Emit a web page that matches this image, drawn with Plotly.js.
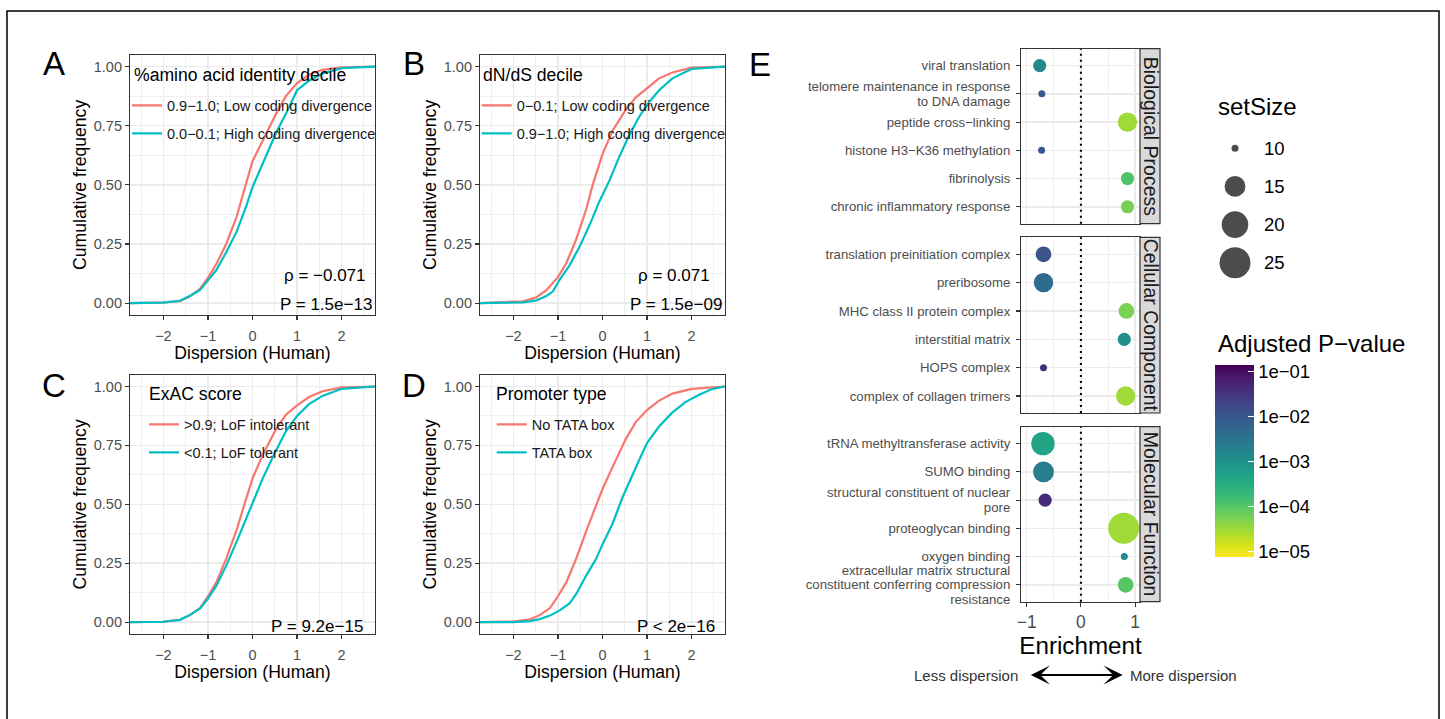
<!DOCTYPE html>
<html><head><meta charset="utf-8">
<script src="https://cdn.plot.ly/plotly-3.0.1.min.js"></script>
<style>html,body{margin:0;padding:0;background:#fff}#chart{width:1445px;height:719px}</style>
</head><body><div id="chart"></div>
<script>
// ---------------- DATA ----------------
// Panel A: %amino acid identity decile
const aLowX  = [-2.75,-2.0,-1.63,-1.41,-1.18,-1.0,-0.81,-0.59,-0.36,-0.22,0,0.23,0.53,0.75,1.0,1.27,1.57,2.0,2.75];
const aLowY  = [0,0.003,0.008,0.028,0.06,0.107,0.166,0.25,0.363,0.455,0.60,0.687,0.80,0.875,0.93,0.965,0.986,0.997,1];
const aHighX = [-2.75,-2.0,-1.63,-1.41,-1.18,-1.0,-0.81,-0.59,-0.36,-0.14,0,0.23,0.53,0.75,1.0,1.27,1.57,2.0,2.75];
const aHighY = [0,0.002,0.01,0.03,0.055,0.095,0.14,0.215,0.30,0.41,0.49,0.59,0.72,0.80,0.90,0.94,0.97,0.993,1];
// Panel B: dN/dS decile
const bLowX  = [-2.75,-2.3,-1.78,-1.48,-1.26,-1.0,-0.81,-0.59,-0.36,-0.22,0,0.23,0.53,0.75,1.0,1.27,1.57,2.0,2.75];
const bLowY  = [0,0.003,0.008,0.025,0.055,0.11,0.17,0.27,0.40,0.50,0.63,0.73,0.82,0.87,0.91,0.95,0.975,0.995,1];
const bHighX = [-2.75,-1.78,-1.48,-1.26,-1.11,-0.96,-0.74,-0.51,-0.29,-0.07,0.16,0.38,0.60,0.83,1.05,1.27,1.57,2.0,2.75];
const bHighY = [0,0.003,0.012,0.03,0.05,0.10,0.16,0.24,0.33,0.43,0.52,0.62,0.71,0.79,0.85,0.90,0.95,0.99,1];
// Panel C: ExAC score
const cLowX  = [-2.75,-2.0,-1.63,-1.41,-1.18,-1.0,-0.81,-0.59,-0.36,-0.18,0,0.23,0.53,0.75,1.0,1.27,1.57,2.0,2.75];
const cLowY  = [0,0.002,0.01,0.03,0.06,0.11,0.17,0.27,0.39,0.50,0.61,0.71,0.82,0.88,0.92,0.955,0.98,0.996,1];
const cHighX = [-2.75,-2.0,-1.63,-1.41,-1.18,-1.0,-0.81,-0.59,-0.36,-0.14,0,0.23,0.53,0.75,1.0,1.27,1.57,2.0,2.75];
const cHighY = [0,0.002,0.01,0.03,0.057,0.10,0.155,0.24,0.34,0.44,0.50,0.61,0.73,0.81,0.875,0.925,0.96,0.99,1];
// Panel D: Promoter type
const dNoX   = [-2.75,-2.0,-1.63,-1.41,-1.18,-1.0,-0.81,-0.59,-0.36,-0.14,0,0.23,0.53,0.75,1.0,1.27,1.57,2.0,2.75];
const dNoY   = [0,0.003,0.012,0.03,0.06,0.11,0.17,0.27,0.39,0.50,0.565,0.66,0.78,0.85,0.90,0.94,0.97,0.99,1];
const dTataX = [-2.75,-2.0,-1.63,-1.41,-1.18,-0.96,-0.74,-0.59,-0.36,-0.14,0,0.23,0.45,0.68,0.90,1.0,1.27,1.57,1.87,2.17,2.47,2.75];
const dTataY = [0,0.0,0.005,0.013,0.028,0.05,0.08,0.12,0.20,0.27,0.33,0.42,0.53,0.63,0.72,0.76,0.83,0.89,0.935,0.965,0.99,1];

const legendNames = {
  A: ['0.9−1.0; Low coding divergence','0.0−0.1; High coding divergence'],
  B: ['0−0.1; Low coding divergence','0.9−1.0; High coding divergence'],
  C: ['&gt;0.9; LoF intolerant','&lt;0.1; LoF tolerant'],
  D: ['No TATA box','TATA box']
};
const legendTitles = {A:'%amino acid identity decile', B:'dN/dS decile', C:'ExAC score', D:'Promoter type'};
const statsA = ['ρ = −0.071','P = 1.5e−13'];
const statsB = ['ρ = 0.071','P = 1.5e−09'];
const statsC = ['P = 9.2e−15'];
const statsD = ['P &lt; 2e−16'];

// Panel E: enrichment
const termsBP = ['viral translation','telomere maintenance in response<br>to DNA damage','peptide cross−linking','histone H3−K36 methylation','fibrinolysis','chronic inflammatory response'];
const enrichBP = [-0.76,-0.72,0.86,-0.725,0.86,0.86];
const sizeBP   = [11,10,14,10,11,11];
const padjBP   = [1.5e-3,1.0e-2,3.1e-5,1.0e-2,1.2e-4,6.0e-5];

const termsCC = ['translation preinitiation complex','preribosome','MHC class II protein complex','interstitial matrix','HOPS complex','complex of collagen trimers'];
const enrichCC = [-0.69,-0.69,0.84,0.80,-0.69,0.825];
const sizeCC   = [12,14,12,11,10,14];
const padjCC   = [1.2e-2,4.6e-3,5.5e-5,1.05e-3,4.0e-2,3.1e-5];

const termsMF = ['tRNA methyltransferase activity','SUMO binding','structural constituent of nuclear<br>pore','proteoglycan binding','oxygen binding','extracellular matrix structural<br>constituent conferring compression<br>resistance'];
const enrichMF = [-0.70,-0.69,-0.66,0.79,0.80,0.825];
const sizeMF   = [17,15,11,25,10,12];
const padjMF   = [4.8e-4,2.3e-3,4.4e-2,3.1e-5,1.5e-3,1.0e-4];

const facetLabels = ['Biological Process','Cellular Component','Molecular Function'];
const sizeLegendVals = [10,15,20,25];
const sizeLimits = [10,25];
const colorLimits = [7.8e-6, 0.14];
const colorTickVals = [1e-1,1e-2,1e-3,1e-4,1e-5];
const colorTickText = ['1e−01','1e−02','1e−03','1e−04','1e−05'];
const refLine = 0;

// ---------------- LAYOUT HELPERS ----------------
const W=1445, H=719;
const fx = p => p/W, fy = p => 1 - p/H;
const FONT = 'Liberation Sans, Arial, Helvetica, sans-serif';
const RED = '#F8766D', CYAN = '#00BFC4';
const box = {
  A:{x:[130,375], y:[54.7,315]},
  B:{x:[480,725], y:[54.7,315]},
  C:{x:[130,375], y:[374.7,634]},
  D:{x:[480,725], y:[374.7,634]},
  E1:{x:[1021,1140], y:[48.7,223.7]},
  E2:{x:[1021,1140], y:[237.3,413]},
  E3:{x:[1021,1140], y:[426.7,601.7]},
  S:{x:[1215,1255], y:[129.2,281.8]}
};
const xd = b => [fx(b.x[0]), fx(b.x[1])];
const yd = b => [fy(b.y[1]), fy(b.y[0])];

// size scale mimicking ggplot area scale (range 1..6) -> pixel diameter
const sizeScale = v => 2.2 + 4.8*(1 + 5*Math.sqrt((v - sizeLimits[0])/(sizeLimits[1]-sizeLimits[0])));
const lg = v => Math.log10(v);

const gridMajor = '#EBEBEB';
function ecdfX(b, anchor){
  return {domain:xd(b), anchor, range:[-2.75,2.75], tickmode:'linear', tick0:0, dtick:1,
    ticks:'outside', ticklen:4, tickwidth:1.1, tickcolor:'#333333', ticklabelstandoff:3,
    tickfont:{size:14.5, color:'#4D4D4D'}, showgrid:true, gridcolor:gridMajor, gridwidth:1.6,
    minor:{dtick:0.5, showgrid:true, gridcolor:gridMajor, gridwidth:0.8},
    showline:true, mirror:true, linecolor:'#333333', linewidth:1.1, zeroline:false,
    title:{text:'Dispersion (Human)', font:{size:17.6, color:'#000'}, standoff:2}};
}
function ecdfY(b, anchor){
  return {domain:yd(b), anchor, range:[-0.05,1.05], tickmode:'linear', tick0:0, dtick:0.25, tickformat:'.2f',
    ticks:'outside', ticklen:4, tickwidth:1.1, tickcolor:'#333333',
    tickfont:{size:14.5, color:'#4D4D4D'}, showgrid:true, gridcolor:gridMajor, gridwidth:1.6,
    minor:{dtick:0.125, showgrid:true, gridcolor:gridMajor, gridwidth:0.8},
    showline:true, mirror:true, linecolor:'#333333', linewidth:1.1, zeroline:false,
    title:{text:'Cumulative frequency', font:{size:17.6, color:'#000'}, standoff:2}};
}
function eX(b, anchor, bottom){
  const a = {domain:xd(b), anchor, range:[-1.105,1.09], tickmode:'linear', tick0:0, dtick:1,
    showgrid:true, gridcolor:gridMajor, gridwidth:1.6,
    minor:{dtick:0.5, showgrid:true, gridcolor:gridMajor, gridwidth:0.8},
    showline:true, mirror:true, linecolor:'#333333', linewidth:1.1, zeroline:false,
    showticklabels:false, ticks:''};
  if(bottom){
    Object.assign(a, {showticklabels:true, ticks:'outside', ticklen:4, tickwidth:1.1, tickcolor:'#333333',
      tickfont:{size:17.5, color:'#4D4D4D'},
      title:{text:'Enrichment', font:{size:24.2, color:'#000'}, standoff:4}});
  }
  return a;
}
function eY(b, anchor, terms){
  return {domain:yd(b), anchor, type:'category', categoryorder:'array', categoryarray:terms,
    range:[terms.length-0.4, -0.6], autorange:false,
    showgrid:true, gridcolor:gridMajor, gridwidth:1.6,
    ticks:'outside', ticklen:4, tickwidth:1.1, tickcolor:'#333333', ticklabelstandoff:3,
    tickfont:{size:13.2, color:'#4D4D4D'},
    showline:true, mirror:true, linecolor:'#333333', linewidth:1.1, zeroline:false};
}

// ---------------- TRACES ----------------
const traces = [];
function ecdfPair(xa, ya, x1, y1, x2, y2, names, leg){
  traces.push({type:'scatter', mode:'lines', x:x1, y:y1, xaxis:xa, yaxis:ya, name:names[0],
    line:{color:RED, width:2.2}, legend:leg, legendgroup:leg+'a', hoverinfo:'skip'});
  traces.push({type:'scatter', mode:'lines', x:x2, y:y2, xaxis:xa, yaxis:ya, name:names[1],
    line:{color:CYAN, width:2.2}, legend:leg, legendgroup:leg+'b', hoverinfo:'skip'});
}
ecdfPair('x','y', aLowX,aLowY,aHighX,aHighY, legendNames.A, 'legend');
ecdfPair('x2','y2', bLowX,bLowY,bHighX,bHighY, legendNames.B, 'legend2');
ecdfPair('x3','y3', cLowX,cLowY,cHighX,cHighY, legendNames.C, 'legend3');
ecdfPair('x4','y4', dNoX,dNoY,dTataX,dTataY, legendNames.D, 'legend4');

const cmin = lg(colorLimits[0]), cmax = lg(colorLimits[1]);
function dotTrace(xa, ya, terms, enrich, sizes, padj, showscale){
  const t = {type:'scatter', mode:'markers', x:enrich, y:terms, xaxis:xa, yaxis:ya, showlegend:false,
    hoverinfo:'skip', cliponaxis:false,
    marker:{size:sizes.map(sizeScale), sizemode:'diameter', color:padj.map(lg), colorscale:'Viridis',
      reversescale:true, cmin, cmax, showscale, line:{width:0}, opacity:1}};
  if(showscale){
    t.marker.colorbar = {x:fx(1215), xanchor:'left', y:fy((365+556.7)/2), yanchor:'middle',
      len:191.7, lenmode:'pixels', thickness:39, thicknessmode:'pixels', outlinewidth:0,
      xpad:0, ypad:0, tickmode:'array', tickvals:colorTickVals.map(lg), ticktext:colorTickText,
      tickprefix:'\u00A0', ticks:'inside', ticklen:6, tickwidth:1, tickcolor:'#FFFFFF',
      tickfont:{size:18.5, color:'#000', family:FONT}, title:{text:''}};
  }
  return t;
}
traces.push(dotTrace('x5','y5', termsBP, enrichBP, sizeBP, padjBP, false));
traces.push(dotTrace('x6','y6', termsCC, enrichCC, sizeCC, padjCC, false));
traces.push(dotTrace('x7','y7', termsMF, enrichMF, sizeMF, padjMF, true));
// size legend
traces.push({type:'scatter', mode:'markers', x:sizeLegendVals.map(()=>0), y:sizeLegendVals, xaxis:'x8', yaxis:'y8',
  showlegend:false, hoverinfo:'skip', cliponaxis:false,
  marker:{size:sizeLegendVals.map(sizeScale), color:'#000', line:{width:0}}});

// ---------------- LAYOUT ----------------
function legendCfg(px, py){
  return {x:fx(px), y:fy(py), xanchor:'left', yanchor:'top', bgcolor:'rgba(0,0,0,0)', borderwidth:0,
    font:{size:14.5, color:'#1A1A1A'}, tracegroupgap:6, itemwidth:30, traceorder:'grouped'};
}

const annotations = [];
function txt(px, py, text, size, anchor, color, extra){
  annotations.push(Object.assign({xref:'paper', yref:'paper', x:fx(px), y:fy(py), text, showarrow:false,
    xanchor:anchor, yanchor:'middle', font:{size, color:color||'#000'}}, extra||{}));
}
// panel letters
txt(54,64,'A',33,'center'); txt(414,64,'B',33,'center');
txt(54,385,'C',33,'center'); txt(414,385,'D',33,'center');
txt(760,65,'E',33,'center');
// legend titles A-D
txt(131.5,75,legendTitles.A,17.6,'left');
txt(480.5,75,legendTitles.B,17.6,'left');
txt(147,394.3,legendTitles.C,17.6,'left');
txt(494,394.3,legendTitles.D,17.6,'left');
// stats
txt(368.3,275,statsA[0],17,'right'); txt(374.3,305,statsA[1],17,'right');
txt(711.7,275,statsB[0],17,'right'); txt(724.3,305,statsB[1],17,'right');
txt(365,626.7,statsC[0],17,'right');
txt(716.7,626.7,statsD[0],17,'right');
// facet strip text
const eBoxes = [box.E1, box.E2, box.E3];
eBoxes.forEach((b,i)=>{
  txt(1150.5,(b.y[0]+b.y[1])/2, facetLabels[i], 19.5, 'center', '#1A1A1A', {textangle:90});
});
// legends titles E
txt(1215.7,106.7,'setSize',24,'left');
txt(1215.7,343.3,'Adjusted P−value',24,'left');
// dispersion arrow
txt(1020,675,'Less dispersion',15,'right','#333333');
txt(1128,675,'More dispersion',15,'left','#333333');
annotations.push({xref:'paper', yref:'paper', x:fx(1122.7), y:fy(675), ax:-93.4, ay:0, axref:'pixel', ayref:'pixel',
  text:'', showarrow:true, arrowside:'end+start', arrowhead:3, arrowsize:1.6, arrowwidth:2, arrowcolor:'#000',
  standoff:0, startstandoff:0});

const shapes = [];
// outer frame
shapes.push({type:'rect', xref:'paper', yref:'paper', x0:fx(7), x1:fx(1439), y0:-0.05, y1:fy(11),
  line:{color:'#000', width:1.5}, fillcolor:'rgba(0,0,0,0)', layer:'below'});
// strips
eBoxes.forEach(b=>{
  shapes.push({type:'rect', xref:'paper', yref:'paper', x0:fx(1140), x1:fx(1160), y0:fy(b.y[1]), y1:fy(b.y[0]),
    line:{color:'#333333', width:1.2}, fillcolor:'#D9D9D9', layer:'above'});
});
// reference dotted line at 0
['5','6','7'].forEach(k=>{
  shapes.push({type:'line', xref:'x'+k, yref:'y'+k+' domain', x0:refLine, x1:refLine, y0:0, y1:1,
    line:{color:'#000', width:2, dash:'2px,4px'}, layer:'above'});
});

const layout = {
  width:W, height:H, margin:{l:0,r:0,t:0,b:0}, paper_bgcolor:'#fff', plot_bgcolor:'#fff',
  font:{family:FONT, color:'#000'}, hovermode:false,
  xaxis:ecdfX(box.A,'y'), yaxis:ecdfY(box.A,'x'),
  xaxis2:ecdfX(box.B,'y2'), yaxis2:ecdfY(box.B,'x2'),
  xaxis3:ecdfX(box.C,'y3'), yaxis3:ecdfY(box.C,'x3'),
  xaxis4:ecdfX(box.D,'y4'), yaxis4:ecdfY(box.D,'x4'),
  xaxis5:eX(box.E1,'y5',false), yaxis5:eY(box.E1,'x5',termsBP),
  xaxis6:eX(box.E2,'y6',false), yaxis6:eY(box.E2,'x6',termsCC),
  xaxis7:eX(box.E3,'y7',true), yaxis7:eY(box.E3,'x7',termsMF),
  xaxis8:{domain:xd(box.S), anchor:'y8', range:[-1,1], visible:false, fixedrange:true},
  yaxis8:{domain:yd(box.S), anchor:'x8', side:'right', range:[27.5,7.5], tickmode:'array', tickvals:sizeLegendVals,
    showgrid:false, zeroline:false, showline:false, ticks:'', ticklabelstandoff:8, tickfont:{size:18.5, color:'#000'}},
  legend:legendCfg(127,89.5),
  legend2:legendCfg(476.7,89.5),
  legend3:legendCfg(144,408.5),
  legend4:legendCfg(491.7,408.5),
  annotations, shapes
};

// tighten line spacing of multi-line category labels in panel E (ggplot uses ~1.1 line height)
function tightenLabels(){
  document.querySelectorAll('.y5tick text, .y6tick text, .y7tick text').forEach(t=>{
    const lines = t.querySelectorAll('tspan.line');
    if(lines.length < 2) return;
    const b0 = t.getBBox(), c0 = b0.y + b0.height/2;
    lines.forEach((l,i)=>{ l.setAttribute('dy', (i*1.12) + 'em'); });
    const b1 = t.getBBox(), c1 = b1.y + b1.height/2;
    const tr = t.getAttribute('transform') || '';
    t.setAttribute('transform', tr + ' translate(0,' + (c0 - c1) + ')');
  });
}
Plotly.newPlot('chart', traces, layout, {displayModeBar:false, staticPlot:true}).then(tightenLabels);
</script></body></html>
